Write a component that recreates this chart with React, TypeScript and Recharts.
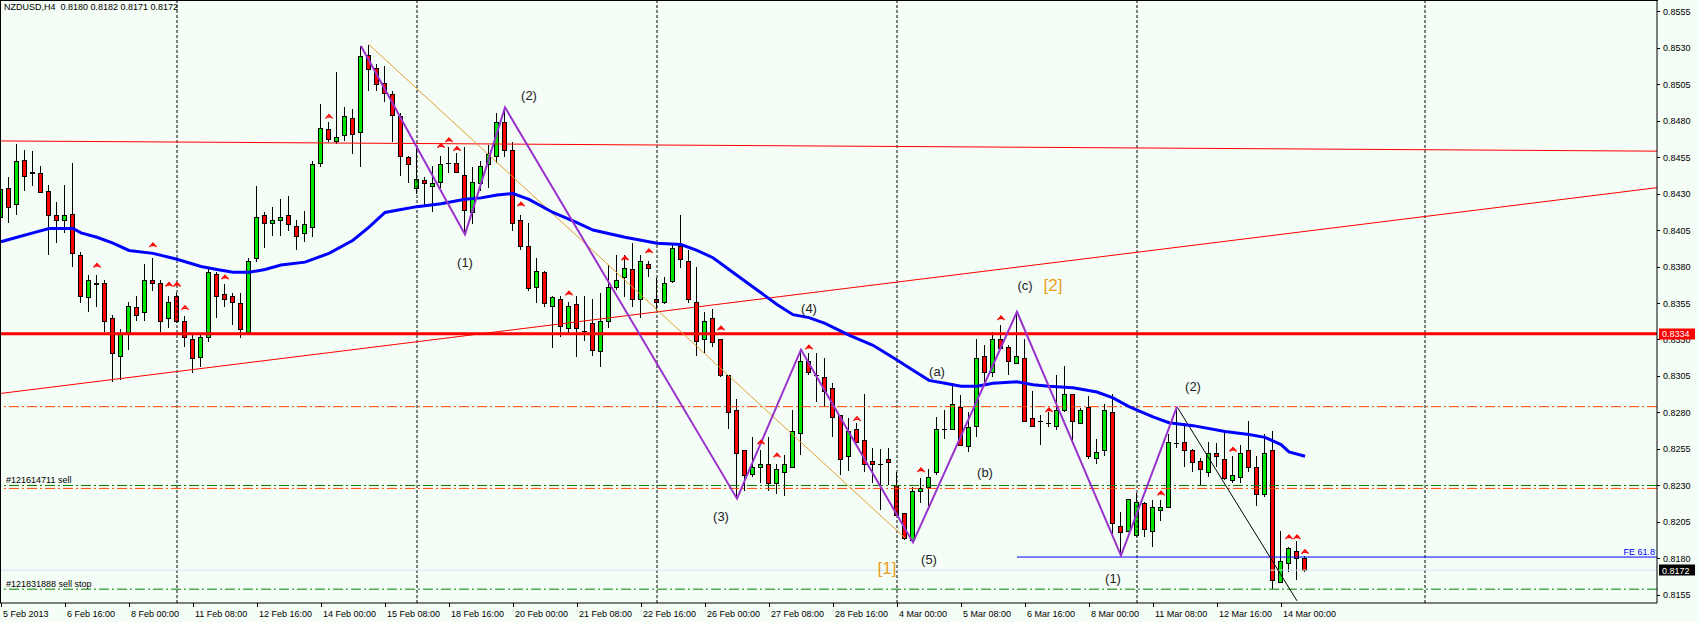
import React from "react";
import {
  ComposedChart,
  Bar,
  Line,
  Scatter,
  XAxis,
  YAxis,
  ReferenceLine,
} from "recharts";

// NZDUSD H4, bar 0 = 5 Feb 2013 08:00
const barOpen = [
  0.8414, 0.8434, 0.8423, 0.8453, 0.8445, 0.8444, 0.8432, 0.8415, 0.8412, 0.8416,
  0.8388, 0.8359, 0.8369, 0.8369, 0.8345, 0.8319, 0.8334, 0.8352, 0.8349, 0.8371,
  0.8369, 0.8345, 0.8360, 0.8343, 0.8330, 0.8318, 0.8332, 0.8375, 0.8361, 0.8360,
  0.8355, 0.8335, 0.8386, 0.8415, 0.8410, 0.8412, 0.8415, 0.8408, 0.8403, 0.8407,
  0.8451, 0.8474, 0.8466, 0.8470, 0.8482, 0.8472, 0.8525, 0.8516, 0.8506, 0.8498,
  0.8483, 0.8455, 0.8434, 0.8439, 0.8435, 0.8438, 0.8451, 0.8451, 0.8443, 0.8417,
  0.8437, 0.8450, 0.8456, 0.8479, 0.8460, 0.8412, 0.8394, 0.8366, 0.8376, 0.8353,
  0.8358, 0.8338, 0.8354, 0.8336, 0.8341, 0.8322, 0.8343, 0.8366, 0.8373, 0.8378,
  0.8358, 0.8382, 0.8358, 0.8356, 0.8370, 0.8394, 0.8384, 0.8356, 0.8330, 0.8345,
  0.8330, 0.8306, 0.8282, 0.8254, 0.8238, 0.8243, 0.8245, 0.8232, 0.8239, 0.8243,
  0.8266, 0.8315, 0.8306, 0.8304, 0.8297, 0.8278, 0.8250, 0.8269, 0.8261, 0.8247,
  0.8245, 0.8248, 0.8230, 0.8211, 0.8193, 0.8226, 0.8229, 0.8239, 0.8269, 0.8269,
  0.8284, 0.8257, 0.8271, 0.8319, 0.8308, 0.8330, 0.8325, 0.8314, 0.8317, 0.8276,
  0.8274, 0.8273, 0.8271, 0.8282, 0.8293, 0.8273, 0.8284, 0.8249, 0.8254, 0.8280,
  0.8202, 0.8199, 0.8196, 0.8218, 0.8199, 0.8213, 0.8215, 0.8259, 0.8260, 0.8254,
  0.8247, 0.8239, 0.8252, 0.8248, 0.8234, 0.8236, 0.8254, 0.8243, 0.8224, 0.8254,
  0.8164, 0.8177, 0.8185, 0.8180,
];
const barHigh = [
  0.8453, 0.8441, 0.8464, 0.8460, 0.8459, 0.8449, 0.8436, 0.8424, 0.8436, 0.8451,
  0.8390, 0.8374, 0.8374, 0.8371, 0.8347, 0.8337, 0.8356, 0.8360, 0.8382, 0.8386,
  0.8371, 0.8360, 0.8362, 0.8346, 0.8334, 0.8334, 0.8378, 0.8376, 0.8368, 0.8362,
  0.8362, 0.8386, 0.8435, 0.8417, 0.8421, 0.8426, 0.8428, 0.8412, 0.8418, 0.8452,
  0.8491, 0.8479, 0.8513, 0.8489, 0.8488, 0.8531, 0.8532, 0.8519, 0.8517, 0.8500,
  0.8485, 0.8456, 0.8461, 0.8441, 0.8449, 0.8456, 0.8462, 0.8458, 0.8462, 0.8448,
  0.8452, 0.8463, 0.8485, 0.8489, 0.8465, 0.8415, 0.8410, 0.8386, 0.8377, 0.8360,
  0.8360, 0.8356, 0.8360, 0.8360, 0.8358, 0.8362, 0.8381, 0.8388, 0.8388, 0.8396,
  0.8388, 0.8384, 0.8372, 0.8373, 0.8396, 0.8415, 0.8391, 0.8380, 0.8349, 0.8351,
  0.8330, 0.8306, 0.8289, 0.8254, 0.8263, 0.8254, 0.8263, 0.8245, 0.8251, 0.8282,
  0.8323, 0.8321, 0.8321, 0.8317, 0.8300, 0.8278, 0.8276, 0.8273, 0.8293, 0.8256,
  0.8255, 0.8256, 0.8239, 0.8211, 0.8229, 0.8235, 0.8241, 0.8277, 0.8282, 0.8300,
  0.8292, 0.8280, 0.8330, 0.8326, 0.8335, 0.8340, 0.8326, 0.8349, 0.8330, 0.8295,
  0.8278, 0.8280, 0.8306, 0.8312, 0.8293, 0.8283, 0.8291, 0.8262, 0.8286, 0.8293,
  0.8212, 0.8221, 0.8225, 0.8219, 0.8220, 0.8220, 0.8265, 0.8284, 0.8273, 0.8255,
  0.8249, 0.8260, 0.8259, 0.8267, 0.8250, 0.8258, 0.8274, 0.8250, 0.8265, 0.8267,
  0.8199, 0.8188, 0.8192, 0.8182,
];
const barLow = [
  0.8412, 0.8410, 0.8415, 0.8432, 0.8435, 0.8431, 0.8388, 0.8396, 0.8403, 0.8380,
  0.8355, 0.8349, 0.8352, 0.8335, 0.8301, 0.8302, 0.8323, 0.8343, 0.8343, 0.8363,
  0.8335, 0.8338, 0.8341, 0.8325, 0.8307, 0.8311, 0.8328, 0.8345, 0.8352, 0.8340,
  0.8331, 0.8335, 0.8383, 0.8393, 0.8401, 0.8401, 0.8404, 0.8391, 0.8397, 0.8400,
  0.8448, 0.8465, 0.8464, 0.8466, 0.8457, 0.8448, 0.8500, 0.8500, 0.8493, 0.8465,
  0.8442, 0.8437, 0.8430, 0.8421, 0.8417, 0.8434, 0.8444, 0.8444, 0.8402, 0.8409,
  0.8432, 0.8434, 0.8451, 0.8455, 0.8404, 0.8391, 0.8363, 0.8355, 0.8352, 0.8324,
  0.8332, 0.8334, 0.8318, 0.8329, 0.8319, 0.8311, 0.8338, 0.8364, 0.8359, 0.8352,
  0.8345, 0.8373, 0.8350, 0.8354, 0.8369, 0.8379, 0.8355, 0.8319, 0.8321, 0.8325,
  0.8304, 0.8269, 0.8221, 0.8226, 0.8236, 0.8232, 0.8226, 0.8224, 0.8223, 0.8242,
  0.8251, 0.8306, 0.8287, 0.8284, 0.8263, 0.8237, 0.8240, 0.8260, 0.8239, 0.8232,
  0.8213, 0.8230, 0.8210, 0.8193, 0.8191, 0.8218, 0.8213, 0.8237, 0.8262, 0.8268,
  0.8258, 0.8253, 0.8263, 0.8300, 0.8304, 0.8324, 0.8306, 0.8313, 0.8274, 0.8271,
  0.8258, 0.8270, 0.8268, 0.8280, 0.8261, 0.8272, 0.8248, 0.8245, 0.8250, 0.8197,
  0.8182, 0.8198, 0.8195, 0.8195, 0.8188, 0.8206, 0.8215, 0.8256, 0.8243, 0.8239,
  0.8230, 0.8236, 0.8243, 0.8234, 0.8232, 0.8232, 0.8239, 0.8216, 0.8222, 0.8159,
  0.8163, 0.8171, 0.8165, 0.8171,
];
const barClose = [
  0.8433, 0.8421, 0.8452, 0.8442, 0.8444, 0.8431, 0.8415, 0.8412, 0.8415, 0.8389,
  0.8360, 0.8371, 0.8368, 0.8343, 0.8321, 0.8334, 0.8353, 0.8347, 0.8371, 0.8369,
  0.8343, 0.8356, 0.8343, 0.8332, 0.8317, 0.8332, 0.8376, 0.8360, 0.8358, 0.8356,
  0.8337, 0.8384, 0.8414, 0.8410, 0.8412, 0.8414, 0.8409, 0.8401, 0.8409, 0.8450,
  0.8475, 0.8467, 0.8469, 0.8483, 0.8471, 0.8524, 0.8515, 0.8505, 0.8499, 0.8484,
  0.8456, 0.8450, 0.8440, 0.8437, 0.8437, 0.8450, 0.8451, 0.8445, 0.8419, 0.8438,
  0.8449, 0.8457, 0.8479, 0.8460, 0.8410, 0.8394, 0.8365, 0.8377, 0.8355, 0.8359,
  0.8339, 0.8353, 0.8338, 0.8336, 0.8323, 0.8343, 0.8366, 0.8371, 0.8379, 0.8358,
  0.8384, 0.8379, 0.8356, 0.8369, 0.8393, 0.8385, 0.8358, 0.8329, 0.8343, 0.8328,
  0.8306, 0.8280, 0.8252, 0.8237, 0.8243, 0.8245, 0.8232, 0.8241, 0.8245, 0.8267,
  0.8315, 0.8308, 0.8306, 0.8295, 0.8277, 0.8248, 0.8267, 0.8260, 0.8245, 0.8245,
  0.8245, 0.8246, 0.8210, 0.8194, 0.8226, 0.8228, 0.8236, 0.8269, 0.8269, 0.8286,
  0.8258, 0.8270, 0.8317, 0.8308, 0.8330, 0.8324, 0.8315, 0.8319, 0.8274, 0.8271,
  0.8274, 0.8273, 0.8282, 0.8293, 0.8274, 0.8282, 0.8250, 0.8253, 0.8282, 0.8204,
  0.8198, 0.8221, 0.8219, 0.8200, 0.8215, 0.8215, 0.8260, 0.8259, 0.8254, 0.8246,
  0.8241, 0.8252, 0.8250, 0.8235, 0.8237, 0.8252, 0.8243, 0.8224, 0.8252, 0.8165,
  0.8178, 0.8187, 0.8180, 0.8172,
];

const timeLabels = [
  "5 Feb 2013", "6 Feb 16:00", "8 Feb 00:00", "11 Feb 08:00", "12 Feb 16:00",
  "14 Feb 00:00", "15 Feb 08:00", "18 Feb 16:00", "20 Feb 00:00", "21 Feb 08:00",
  "22 Feb 16:00", "26 Feb 00:00", "27 Feb 08:00", "28 Feb 16:00", "4 Mar 00:00",
  "5 Mar 08:00", "6 Mar 16:00", "8 Mar 00:00", "11 Mar 08:00", "12 Mar 16:00",
  "14 Mar 00:00",
];
const labelBars = timeLabels.map((_, k) => k * 8);
const weekBars = [22, 52, 82, 112, 142, 178];

const priceTicks = [
  0.8155, 0.818, 0.8205, 0.823, 0.8255, 0.828, 0.8305, 0.833, 0.8355, 0.838,
  0.8405, 0.843, 0.8455, 0.848, 0.8505, 0.853, 0.8555,
];
const RED_LEVEL = 0.8334;
const BID = 0.8172;

// moving average
const maBars = [
  0, 2, 4, 6, 9, 10, 12, 14, 16, 19, 22, 25, 27, 29, 31, 33, 35, 38, 41, 44, 46,
  48, 50, 52, 55, 58, 60, 62, 64, 66, 69, 72, 74, 78, 82, 85, 87, 89, 91, 94, 95,
  97, 99, 101, 103, 106, 109, 112, 114, 116, 118, 120, 122, 124, 127, 129, 131,
  134, 137, 139, 141, 144, 146, 149, 153, 156, 158, 160, 161, 163,
];
const maValues = [
  0.8397, 0.84, 0.8403, 0.8406, 0.8406, 0.8403, 0.84, 0.8396, 0.8391, 0.8389,
  0.8385, 0.838, 0.8378, 0.8376, 0.8376, 0.8378, 0.8381, 0.8383, 0.8389, 0.8398,
  0.8407, 0.8417, 0.8419, 0.8421, 0.8423, 0.8426, 0.8427, 0.8429, 0.843, 0.8426,
  0.8417, 0.841, 0.8405, 0.84, 0.8396, 0.8395, 0.8391, 0.8386, 0.8378, 0.8366,
  0.8362, 0.8354, 0.8347, 0.8345, 0.8341, 0.8333, 0.8326, 0.8316, 0.8309, 0.8302,
  0.83, 0.8298, 0.8298, 0.83, 0.8301, 0.8299, 0.8298, 0.8297, 0.8294, 0.829,
  0.8284, 0.8277, 0.8273, 0.8271, 0.8267, 0.8265, 0.8263, 0.8258, 0.8253, 0.825,
];

// fractal markers
const arrowBars = [
  12, 19, 21, 22, 23, 28, 41, 55, 56, 57, 65, 71, 78, 81, 90, 95, 97, 101, 107,
  115, 125, 131, 145, 154, 161, 162, 163,
];
const arrowValues = [
  0.8381, 0.8395, 0.8368, 0.8368, 0.8352, 0.8373, 0.8483, 0.8463, 0.8467, 0.8461,
  0.8423, 0.8362, 0.8386, 0.8391, 0.8338, 0.826, 0.8251, 0.8325, 0.8276, 0.8241,
  0.8345, 0.8282, 0.8225, 0.8255, 0.8195, 0.8195, 0.8185,
];

// wave zigzag
const zigBars = [45, 58, 63, 92, 100, 114, 127, 140, 147];
const zigValues = [0.8531, 0.8402, 0.8489, 0.8221, 0.8323, 0.8191, 0.8349, 0.8182, 0.8284];

// wave labels
const waveText = ["(1)", "(2)", "(3)", "(4)", "(5)", "(a)", "(b)", "(c)", "(1)", "(2)"];
const waveBars = [58, 66, 90, 101, 116, 117, 123, 128, 139, 149];
const waveValues = [0.8383, 0.8497, 0.8209, 0.8351, 0.8179, 0.8308, 0.8239, 0.8367, 0.8166, 0.8298];
const degreeText = ["[1]", "[2]"];
const degreeBars = [110.75, 131.5];
const degreeValues = [0.8173, 0.8367];

const W = 1699;
const H = 622;
const BG = "#F4FDF6";
const FONT = "'Liberation Sans', Arial, sans-serif";
const X_DOMAIN: [number, number] = [-0.125, 207];
const Y_DOMAIN: [number, number] = [0.814952, 0.856185];

const candles = barOpen.map((o, i) => ({
  i,
  o,
  h: barHigh[i],
  l: barLow[i],
  c: barClose[i],
}));
const maData = maBars.map((i, k) => ({ i, v: maValues[k] }));
const arrowData = arrowBars.map((i, k) => ({ i, v: arrowValues[k] }));
const zigData = zigBars.map((i, k) => ({ i, v: zigValues[k] }));
const waveData = waveBars.map((i, k) => ({ i, v: waveValues[k], t: waveText[k] }));
const degreeData = degreeBars.map((i, k) => ({ i, v: degreeValues[k], t: degreeText[k] }));

function Candle(props: any) {
  const { x, y, width, height, payload } = props;
  if (x == null || !payload) return null;
  const { o, h, l, c } = payload;
  const top = Math.min(y, y + height);
  const hh = Math.abs(height);
  const cx = Math.floor(x + width / 2);
  const py = (v: number) => (h - l > 0 ? top + ((h - v) / (h - l)) * hh : top);
  const b1 = Math.round(Math.min(py(o), py(c)));
  const b2 = Math.round(Math.max(py(o), py(c)));
  return (
    <g>
      <line x1={cx + 0.5} x2={cx + 0.5} y1={Math.round(top)} y2={Math.round(top + hh)} stroke="#000" />
      {o === c || b2 - b1 < 1 ? (
        <line x1={cx - 2} x2={cx + 3} y1={b1 + 0.5} y2={b1 + 0.5} stroke="#000" />
      ) : (
        <rect
          x={cx - 1.5}
          y={b1 + 0.5}
          width={4}
          height={b2 - b1}
          fill={c > o ? "#00E400" : "#FF0000"}
          stroke="#000"
        />
      )}
    </g>
  );
}

function Fractal(props: any) {
  const { cx, cy } = props;
  if (cx == null) return null;
  return (
    <path
      d={`M${cx - 3.5},${cy + 2.5} L${cx},${cy - 1.5} L${cx + 3.5},${cy + 2.5} M${cx - 1.5},${cy + 1} L${cx + 1.5},${cy + 1}`}
      stroke="#FF0000"
      strokeWidth={1.4}
      fill="none"
    />
  );
}

function WaveLabel(props: any) {
  const { cx, cy, payload } = props;
  if (cx == null) return null;
  return (
    <text x={cx} y={cy} textAnchor="middle" dominantBaseline="central" fontSize={13} fontFamily={FONT} fill="#222">
      {payload.t}
    </text>
  );
}

function DegreeLabel(props: any) {
  const { cx, cy, payload } = props;
  if (cx == null) return null;
  return (
    <text x={cx} y={cy} textAnchor="middle" dominantBaseline="central" fontSize={17} fontFamily={FONT} fill="#E8A020">
      {payload.t}
    </text>
  );
}

function TimeTick(props: any) {
  const { x, y, index } = props;
  return (
    <g>
      <line x1={x + 0.5} x2={x + 0.5} y1={y} y2={y + 4} stroke="#000" />
      <text x={x + 2} y={y + 14} fontSize={9} fontFamily={FONT} fill="#000">
        {timeLabels[index]}
      </text>
    </g>
  );
}

function PriceTick(props: any) {
  const { x, y, payload } = props;
  const v = payload.value;
  if (v === RED_LEVEL || v === BID) {
    return (
      <g>
        <rect x={x + 2} y={Math.round(y) - 5.5} width={36} height={11} fill={v === BID ? "#000" : "#FF0000"} />
        <text x={x + 5} y={y + 3.5} fontSize={9} fontFamily={FONT} fill="#fff">
          {v.toFixed(4)}
        </text>
      </g>
    );
  }
  return (
    <g>
      <line x1={x} x2={x + 3} y1={Math.round(y) + 0.5} y2={Math.round(y) + 0.5} stroke="#000" />
      <text x={x + 6} y={y + 3.5} fontSize={9} fontFamily={FONT} fill="#000">
        {v.toFixed(4)}
      </text>
    </g>
  );
}

const orderLabel = (text: string) => ({
  content: (p: any) => (
    <text x={(p.viewBox?.x ?? 0) + 6} y={(p.viewBox?.y ?? 0) - 2} fontSize={9} fontFamily={FONT} fill="#000">
      {text}
    </text>
  ),
});

const DASHDOT = "10 3 2 3";

export default function App() {
  return (
    <div style={{ position: "absolute", left: 0, top: 0, width: W, height: H, background: BG, overflow: "hidden" }}>
      <ComposedChart width={W} height={H} data={candles} margin={{ top: 1, right: 0, bottom: 0, left: 0 }}>
        <XAxis
          dataKey="i"
          type="number"
          domain={X_DOMAIN}
          allowDataOverflow
          ticks={labelBars}
          interval={0}
          tick={<TimeTick />}
          tickLine={false}
          tickSize={0}
          tickMargin={0}
          axisLine={{ stroke: "#000" }}
          height={19}
        />
        <YAxis
          orientation="right"
          type="number"
          domain={Y_DOMAIN}
          allowDataOverflow
          ticks={[...priceTicks, RED_LEVEL, BID]}
          interval={0}
          tick={<PriceTick />}
          tickLine={false}
          tickSize={0}
          tickMargin={0}
          axisLine={{ stroke: "#000" }}
          width={42}
        />

        {weekBars.map((b) => (
          <ReferenceLine key={`w${b}`} x={b} stroke="#000" strokeDasharray="3 2" ifOverflow="hidden" />
        ))}

        <ReferenceLine y={0.8284} stroke="#FF4500" strokeDasharray={DASHDOT} />
        <ReferenceLine y={0.8228} stroke="#FF4500" strokeDasharray={DASHDOT} />
        <ReferenceLine y={0.823} stroke="#008000" strokeDasharray={DASHDOT} label={orderLabel("#121614711 sell")} />
        <ReferenceLine y={0.8159} stroke="#008000" strokeDasharray={DASHDOT} label={orderLabel("#121831888 sell stop")} />
        <ReferenceLine y={BID} stroke="#D8DEF0" />
        <ReferenceLine
          segment={[{ x: 127, y: 0.8181 }, { x: 207, y: 0.8181 }]}
          stroke="#0000FF"
          label={{
            content: (p: any) => (
              <text
                x={(p.viewBox?.x ?? 0) + (p.viewBox?.width ?? 0) - 2}
                y={(p.viewBox?.y ?? 0) - 2}
                textAnchor="end"
                fontSize={9}
                fontFamily={FONT}
                fill="#0000FF"
              >
                FE 61.8
              </text>
            ),
          }}
        />
        <ReferenceLine segment={[{ x: -0.125, y: 0.8466 }, { x: 207, y: 0.8459 }]} stroke="#FF0000" />
        <ReferenceLine segment={[{ x: -0.125, y: 0.8293 }, { x: 207, y: 0.8434 }]} stroke="#FF0000" />
        <ReferenceLine y={RED_LEVEL} stroke="#FF0000" strokeWidth={3} />
        <ReferenceLine segment={[{ x: 46, y: 0.8532 }, { x: 113, y: 0.8194 }]} stroke="#E5A030" />
        <ReferenceLine segment={[{ x: 147, y: 0.8284 }, { x: 162, y: 0.8151 }]} stroke="#000" />

        <Line data={maData} dataKey="v" stroke="#0000FF" strokeWidth={3} dot={false} isAnimationActive={false} />
        <Bar dataKey={(d: any) => [d.l, d.h]} barSize={5} shape={<Candle />} isAnimationActive={false} />
        <Line data={zigData} dataKey="v" stroke="#9932CC" strokeWidth={2} dot={false} isAnimationActive={false} />
        <Scatter data={arrowData} dataKey="v" shape={<Fractal />} isAnimationActive={false} />
        <Scatter data={waveData} dataKey="v" shape={<WaveLabel />} isAnimationActive={false} />
        <Scatter data={degreeData} dataKey="v" shape={<DegreeLabel />} isAnimationActive={false} />
      </ComposedChart>
      <div style={{ position: "absolute", left: 0, top: 0, width: 1658, height: 1, background: "#000" }} />
      <div style={{ position: "absolute", left: 0, top: 0, width: 1, height: 603, background: "#000" }} />
      <div style={{ position: "absolute", left: 4, top: 2, fontSize: 9, fontFamily: FONT, color: "#000", whiteSpace: "pre" }}>
        {"NZDUSD,H4  0.8180 0.8182 0.8171 0.8172"}
      </div>
    </div>
  );
}
